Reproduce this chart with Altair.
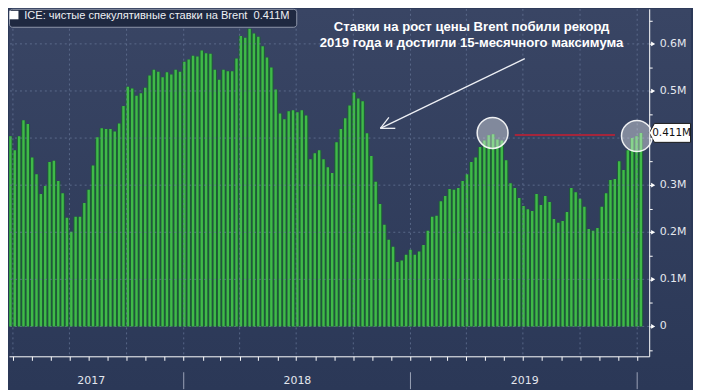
import altair as alt
import pandas as pd

# ---------------- data ----------------
values = [
    0.474, 0.409, 0.404, 0.374, 0.404, 0.438, 0.430, 0.359, 0.323, 0.281,
    0.298, 0.349, 0.352, 0.309, 0.283, 0.231, 0.201, 0.233, 0.233, 0.262,
    0.290, 0.342, 0.402, 0.421, 0.419, 0.419, 0.414, 0.431, 0.468, 0.509,
    0.505, 0.490, 0.495, 0.507, 0.533, 0.545, 0.541, 0.529, 0.540, 0.535,
    0.545, 0.541, 0.562, 0.567, 0.575, 0.573, 0.586, 0.580, 0.579, 0.545,
    0.524, 0.545, 0.542, 0.542, 0.569, 0.617, 0.613, 0.632, 0.622, 0.615,
    0.595, 0.571, 0.550, 0.503, 0.452, 0.440, 0.457, 0.459, 0.455, 0.459,
    0.448, 0.355, 0.368, 0.374, 0.355, 0.338, 0.326, 0.391, 0.419, 0.442,
    0.469, 0.497, 0.484, 0.478, 0.410, 0.362, 0.307, 0.260, 0.216, 0.184,
    0.169, 0.137, 0.140, 0.152, 0.163, 0.152, 0.159, 0.173, 0.203, 0.233,
    0.235, 0.266, 0.277, 0.292, 0.290, 0.294, 0.309, 0.323, 0.349, 0.359,
    0.381, 0.395, 0.406, 0.408, 0.397, 0.395, 0.353, 0.304, 0.294, 0.273,
    0.256, 0.249, 0.245, 0.281, 0.258, 0.277, 0.264, 0.228, 0.220, 0.224,
    0.243, 0.294, 0.285, 0.271, 0.254, 0.207, 0.203, 0.209, 0.254, 0.283,
    0.311, 0.313, 0.351, 0.332, 0.374, 0.400, 0.404, 0.411,
]
first_week = "2017-03-14"
week_dates = pd.date_range(first_week, periods=len(values), freq="7D").strftime("%Y-%m-%dT%H:%M:%S").tolist()

year_labels = ["2017", "2018", "2019"]
year_label_dates = ["2017-08-05T00:00:00", "2018-07-03T00:00:00", "2019-07-04T00:00:00"]
year_starts = ["2018-01-01T00:00:00", "2019-01-01T00:00:00", "2020-01-01T00:00:00"]
quarter_starts = [
    "2017-04-01T00:00:00", "2017-07-01T00:00:00", "2017-10-01T00:00:00",
    "2018-01-01T00:00:00", "2018-04-01T00:00:00", "2018-07-01T00:00:00", "2018-10-01T00:00:00",
    "2019-01-01T00:00:00", "2019-04-01T00:00:00", "2019-07-01T00:00:00", "2019-10-01T00:00:00",
    "2020-01-01T00:00:00",
]
month_tick_years = [2017] * 9 + [2018] * 12 + [2019] * 12 + [2020]
month_tick_months = list(range(4, 13)) + list(range(1, 13)) + list(range(1, 13)) + [1]

y_label_values = [0.0, 0.1, 0.2, 0.3, 0.4, 0.5, 0.6]
y_label_texts = ["0", "0.1M", "0.2M", "0.3M", "0.4M", "0.5M", "0.6M"]
y_tick_values = [-0.05, 0.0, 0.05, 0.1, 0.15, 0.2, 0.25, 0.3, 0.35, 0.4, 0.45, 0.5, 0.55, 0.6, 0.65]

legend_text = "ICE: чистые спекулятивные ставки на Brent\u00a0 0.411M"
last_value = 0.411
note_lines = ["Ставки на рост цены Brent побили рекорд", "2019 года и достигли 15-месячного максимума"]
note_x = ["2019-04-09T10:00:00", "2019-04-09T10:00:00"]
note_y = [0.6264, 0.5926]

# arrow segments (shaft + two barbs), data coordinates
arrow_x0 = ["2019-07-04T00:00:00", "2018-11-13T14:24:00", "2018-11-13T14:24:00"]
arrow_y0 = [0.5687, 0.4207, 0.4207]
arrow_x1 = ["2018-11-13T14:24:00", "2018-12-07T14:24:00", "2018-11-27T07:12:00"]
arrow_y1 = [0.4207, 0.4207, 0.4440]

circle_x = ["2019-05-13T05:00:00", "2019-12-31T14:24:00"]
circle_y = [0.4108, 0.4044]

red_x0 = ["2019-06-17T22:00:00"]
red_x1 = ["2019-11-26T07:00:00"]
red_y = [0.4066]

# ---------------- style ----------------
BRIGHT = "#3fba48"
DARK = "#1e5d37"
GRID = "#6a7a9c"
TXT = "#e4e7ee"

xscale = alt.Scale(
    domain=[alt.DateTime(year=2017, month=3, date=25, hours=16, minutes=48),
            alt.DateTime(year=2020, month=1, date=20, hours=8)],
    nice=False,
)
yscale = alt.Scale(domain=[-0.06342, 0.67442], nice=False, zero=False)

xaxis = alt.Axis(
    values=[alt.DateTime(year=y, month=m, date=1) for y, m in zip(month_tick_years, month_tick_months)],
    labels=False, title=None, grid=False, domainColor="white", domainWidth=1,
    tickColor="white", tickSize=4, tickWidth=1, zindex=1,
)
yaxis = alt.Axis(
    orient="right", values=y_tick_values, title=None, grid=False, labels=False,
    domainColor="white", domainWidth=1, tickColor="white", tickSize=3, tickWidth=1, zindex=1,
)


def X(field):
    return alt.X(field, scale=xscale, axis=xaxis)


def Y(field):
    return alt.Y(field, scale=yscale, axis=yaxis)


bars = pd.DataFrame({"date": week_dates, "value": values})

bg = alt.Chart(pd.DataFrame({"a": [0]})).mark_rect(
    fill=alt.Gradient(gradient="linear",
                      stops=[alt.GradientStop(color="#394564", offset=0),
                             alt.GradientStop(color="#2b3857", offset=1)],
                      x1=0, x2=0, y1=0, y2=1)
).encode(x=alt.value(0), x2=alt.value(685), y=alt.value(0), y2=alt.value(382))

dark = alt.Chart(bars).mark_rule(color=DARK, strokeWidth=4.4, clip=True).encode(
    x=X("date:T"), y=Y("value:Q"), y2=alt.datum(0),
)
bright = alt.Chart(bars).mark_rule(color=BRIGHT, strokeWidth=2.4, clip=True).encode(
    x=X("date:T"), y=Y("value:Q"), y2=alt.datum(0),
)

vgrid = alt.Chart(pd.DataFrame({"q": quarter_starts})).mark_rule(
    color=GRID, strokeDash=[2, 3], strokeWidth=1, opacity=0.7, clip=True
).encode(x=X("q:T"))
hgrid = alt.Chart(pd.DataFrame({"g": y_label_values})).mark_rule(
    color=GRID, strokeDash=[2, 3], strokeWidth=1, opacity=0.7
).encode(y=Y("g:Q"))

ylab_df = pd.DataFrame({"v": y_label_values, "t": y_label_texts})
ymarks = alt.Chart(ylab_df).mark_point(
    shape="triangle-right", filled=True, fill="white", size=22, opacity=1
).encode(x=alt.value(647), y=Y("v:Q"))
ylabels = alt.Chart(ylab_df).mark_text(
    align="left", baseline="middle", font="DejaVu Sans", fontSize=11, color=TXT
).encode(x=alt.value(653.5), y=Y("v:Q"), text="t:N")

red = alt.Chart(pd.DataFrame({"x0": red_x0, "x1": red_x1, "y": red_y})).mark_rule(
    color="#a4263c", strokeWidth=2
).encode(x=X("x0:T"), x2="x1:T", y=Y("y:Q"))

circles = alt.Chart(pd.DataFrame({"x": circle_x, "y": circle_y})).mark_point(
    shape="circle", filled=True, fill="white", fillOpacity=0.38,
    stroke="white", strokeOpacity=0.9, strokeWidth=1.5, size=961, opacity=1
).encode(x=X("x:T"), y=Y("y:Q"))

arrow = alt.Chart(pd.DataFrame({"x0": arrow_x0, "y0": arrow_y0, "x1": arrow_x1, "y1": arrow_y1})).mark_rule(
    color="#eef0f5", strokeWidth=1.3
).encode(x=X("x0:T"), x2="x1:T", y=Y("y0:Q"), y2="y1:Q")

note = alt.Chart(pd.DataFrame({"x": note_x, "y": note_y, "t": note_lines})).mark_text(
    align="center", baseline="alphabetic", font="Liberation Sans", fontSize=13.2,
    fontWeight="bold", color="white"
).encode(x=X("x:T"), y=Y("y:Q"), text="t:N")

leg_box = alt.Chart(pd.DataFrame({"a": [0]})).mark_rect(
    fill="#1f2941", stroke="#8f97aa", strokeWidth=1, cornerRadius=3
).encode(x=alt.value(0.5), x2=alt.value(289), y=alt.value(0.5), y2=alt.value(18.5))
leg_sq = alt.Chart(pd.DataFrame({"a": [0]})).mark_rect(fill="white").encode(
    x=alt.value(0.5), x2=alt.value(9.5), y=alt.value(2), y2=alt.value(10.5))
leg_txt = alt.Chart(pd.DataFrame({"t": [legend_text]})).mark_text(
    align="left", baseline="middle", font="Liberation Sans", fontSize=11.1, color="#eef0f4"
).encode(x=alt.value(15.3), y=alt.value(7.2), text="t:N")

callout_df = pd.DataFrame({"v": [last_value], "t": [f"{last_value}M"]})
callout = alt.Chart(callout_df).mark_point(
    shape="M-1,0L-0.75,-0.458L1,-0.458L1,0.458L-0.75,0.458Z", filled=True, fill="white",
    stroke="#1a1a1a", strokeWidth=1, size=1722, opacity=1
).encode(x=alt.value(663.8), y=Y("v:Q"))
callout_txt = alt.Chart(callout_df).mark_text(
    align="left", baseline="middle", font="DejaVu Sans", fontSize=10.5, color="#111111"
).encode(x=alt.value(646), y=Y("v:Q"), text="t:N")

years = alt.Chart(pd.DataFrame({"d": year_label_dates, "label": year_labels})).mark_text(
    align="center", baseline="middle", font="DejaVu Sans", fontSize=11, color=TXT
).encode(x=X("d:T"), y=alt.value(374), text="label:N")
seps = alt.Chart(pd.DataFrame({"d": year_starts})).mark_rule(color="#9aa2b6", strokeWidth=1).encode(
    x=X("d:T"), y=alt.value(365), y2=alt.value(382))

chart = alt.layer(
    bg, dark, bright, vgrid, hgrid, ymarks, ylabels, red, circles, arrow, note,
    leg_box, leg_sq, leg_txt, callout, callout_txt, years, seps,
).properties(
    width=643, height=349, padding=0, background="#2b3857"
).configure_view(stroke=None)

chart.save("out.html", embed_options={"renderer": "svg", "actions": False})
